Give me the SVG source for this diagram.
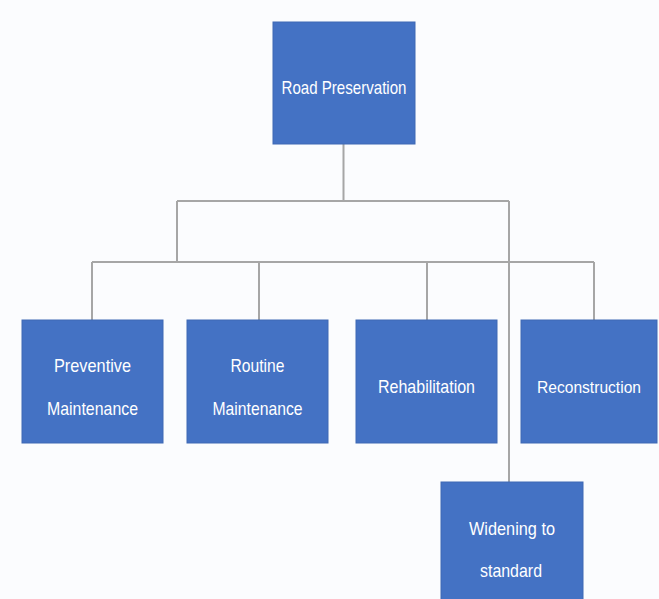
<svg xmlns="http://www.w3.org/2000/svg" width="659" height="599" viewBox="0 0 659 599">
<style>
.box{fill:#4472C4;stroke:#3F69B4;stroke-width:1}
.lbl{fill:#FFFFFF;font-family:"Liberation Sans Narrow","Liberation Sans",Arial,sans-serif;font-size:19px;text-anchor:middle}
.con{fill:none;stroke:#A6A6A6;stroke-width:2}
</style>
<rect width="659" height="599" fill="#FBFCFE"/>
<g id="connectors">
<path class="con" d="M343.5 144V201M177 201H509M177 201V262M92 262H594M92 262V320M259 262V320M427 262V320M594 262V320M509 201V482"/>
</g>
<g id="road-preservation">
<rect class="box" x="273" y="22" width="142" height="122"/>
<text class="lbl" x="344" y="94" textLength="125" lengthAdjust="spacingAndGlyphs">Road Preservation</text>
</g>
<g id="preventive-maintenance">
<rect class="box" x="22" y="320" width="141" height="123"/>
<text class="lbl" x="92.5" y="372" textLength="77" lengthAdjust="spacingAndGlyphs">Preventive</text>
<text class="lbl" x="92.5" y="415" textLength="91" lengthAdjust="spacingAndGlyphs">Maintenance</text>
</g>
<g id="routine-maintenance">
<rect class="box" x="187" y="320" width="141" height="123"/>
<text class="lbl" x="257.5" y="372" textLength="54" lengthAdjust="spacingAndGlyphs">Routine</text>
<text class="lbl" x="257.5" y="415" textLength="90" lengthAdjust="spacingAndGlyphs">Maintenance</text>
</g>
<g id="rehabilitation">
<rect class="box" x="356" y="320" width="141" height="123"/>
<text class="lbl" x="426.5" y="393" textLength="97" lengthAdjust="spacingAndGlyphs">Rehabilitation</text>
</g>
<g id="reconstruction">
<rect class="box" x="521" y="320" width="136" height="123"/>
<text class="lbl" x="589" y="393" font-size="17" style="font-size:17px" textLength="104" lengthAdjust="spacingAndGlyphs">Reconstruction</text>
</g>
<g id="widening-to-standard">
<rect class="box" x="441" y="482" width="142" height="125"/>
<text class="lbl" x="512" y="535" textLength="86" lengthAdjust="spacingAndGlyphs">Widening to</text>
<text class="lbl" x="511" y="577" textLength="62" lengthAdjust="spacingAndGlyphs">standard</text>
</g>
</svg>
